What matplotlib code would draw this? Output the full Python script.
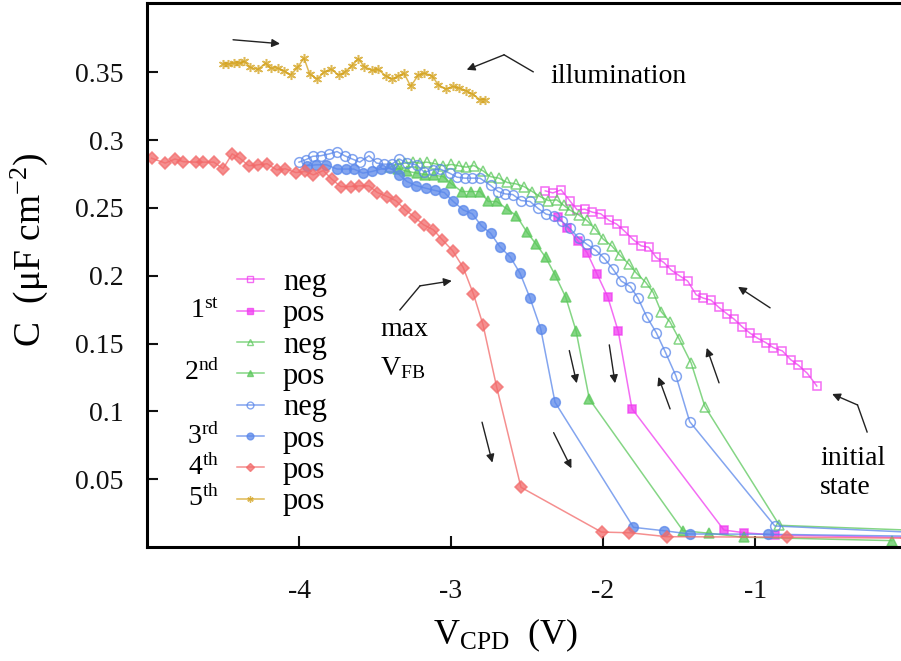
import matplotlib
matplotlib.use("Agg")
import matplotlib.pyplot as plt
from matplotlib.lines import Line2D

plt.rcParams['font.family'] = ['Liberation Serif', 'DejaVu Serif']
plt.rcParams['mathtext.fontset'] = 'custom'
plt.rcParams['mathtext.rm'] = 'Liberation Serif'
plt.rcParams['mathtext.it'] = 'Liberation Serif:italic'
plt.rcParams['axes.unicode_minus'] = False

# ---------------- data ----------------
neg1_x = [-2.38, -2.33, -2.276, -2.22, -2.17, -2.12, -2.07, -2.015, -1.96, -1.91, -1.86, -1.80,
          -1.75, -1.70, -1.65, -1.60, -1.55, -1.497, -1.443, -1.388, -1.34, -1.29, -1.24, -1.186,
          -1.138, -1.086, -1.033, -0.985, -0.93, -0.88, -0.82, -0.765, -0.715, -0.656, -0.594]
neg1_y = [0.2625, 0.261, 0.2633, 0.2554, 0.2485, 0.249, 0.2468, 0.2456, 0.2407, 0.238, 0.233, 0.2264,
          0.222, 0.221, 0.2134, 0.2097, 0.204, 0.1999, 0.196, 0.186, 0.1834, 0.182, 0.1768, 0.172,
          0.168, 0.1625, 0.1576, 0.154, 0.1507, 0.147, 0.1445, 0.138, 0.134, 0.128, 0.1187]

pos1_x = [-2.294, -2.235, -2.166, -2.105, -2.04, -1.97, -1.90, -1.81, -1.205, -1.07, -0.87, 0.0]
pos1_y = [0.243, 0.2355, 0.2257, 0.217, 0.2013, 0.1846, 0.159, 0.102, 0.0125, 0.0105, 0.0088, 0.007]

neg2_x = [-3.40, -3.35, -3.30, -3.25, -3.205, -3.16, -3.105, -3.05, -2.997, -2.95, -2.90, -2.85,
          -2.79, -2.74, -2.685, -2.63, -2.574, -2.52, -2.465, -2.414, -2.36, -2.305, -2.26, -2.22,
          -2.16, -2.107, -2.05, -2.0, -1.943, -1.89, -1.83, -1.78, -1.72, -1.67, -1.618, -1.56,
          -1.50, -1.42, -1.33, -0.84, 0.0]
neg2_y = [0.280, 0.2825, 0.283, 0.2837, 0.283, 0.2837, 0.2825, 0.281, 0.282, 0.281, 0.280, 0.2812,
          0.2773, 0.273, 0.2719, 0.2687, 0.2677, 0.2657, 0.262, 0.2583, 0.2554, 0.2559, 0.252, 0.2485,
          0.2448, 0.2407, 0.2343, 0.227, 0.222, 0.2153, 0.2085, 0.2018, 0.1952, 0.1876, 0.1735, 0.166,
          0.1534, 0.1355, 0.1035, 0.016, 0.0125]

pos2_x = [-3.35, -3.29, -3.226, -3.17, -3.11, -3.05, -3.0, -2.93, -2.87, -2.81, -2.755, -2.70,
          -2.63, -2.57, -2.50, -2.44, -2.377, -2.316, -2.245, -2.178, -2.09, -1.474, -1.30, -1.07, -0.10]
pos2_y = [0.279, 0.277, 0.2756, 0.2745, 0.274, 0.273, 0.268, 0.262, 0.262, 0.262, 0.2547, 0.2547,
          0.249, 0.2443, 0.232, 0.2232, 0.2134, 0.2006, 0.184, 0.1595, 0.109, 0.012, 0.0101, 0.0072, 0.0047]

neg3_x = [-4.0, -3.955, -3.91, -3.857, -3.80, -3.75, -3.70, -3.65, -3.60, -3.54, -3.49, -3.44, -3.39,
          -3.34, -3.29, -3.226, -3.176, -3.12, -3.07, -3.01, -2.96, -2.91, -2.86, -2.81, -2.74,
          -2.69, -2.645, -2.594, -2.54, -2.48, -2.43, -2.375, -2.32, -2.27, -2.22, -2.16, -2.107,
          -2.05, -1.993, -1.936, -1.88, -1.82, -1.77, -1.713, -1.65, -1.59, -1.52, -1.43, -0.87, 0.0]
neg3_y = [0.2837, 0.2855, 0.288, 0.2884, 0.2898, 0.2915, 0.2884, 0.286, 0.2837, 0.2884, 0.283, 0.2822,
          0.2822, 0.286, 0.283, 0.2817, 0.2763, 0.278, 0.2785, 0.2756, 0.2726, 0.2719, 0.2719, 0.2719,
          0.2665, 0.262, 0.2603, 0.2598, 0.2554, 0.2547, 0.2498, 0.2454, 0.2441, 0.24, 0.235, 0.2277,
          0.2232, 0.219, 0.213, 0.205, 0.196, 0.192, 0.1834, 0.1698, 0.158, 0.1436, 0.126, 0.0924,
          0.0155, 0.011]

pos3_x = [-3.95, -3.89, -3.82, -3.75, -3.69, -3.64, -3.58, -3.52, -3.46, -3.40, -3.34, -3.29, -3.23,
          -3.167, -3.105, -3.044, -2.985, -2.92, -2.86, -2.80, -2.74, -2.68, -2.61, -2.546, -2.48,
          -2.41, -2.316, -1.80, -1.60, -1.43, -0.915, 0.0]
pos3_y = [0.281, 0.2817, 0.2817, 0.2786, 0.2786, 0.2786, 0.2756, 0.2768, 0.2786, 0.2793, 0.2743, 0.2694,
          0.2664, 0.2645, 0.2628, 0.2613, 0.2547, 0.2485, 0.2456, 0.2367, 0.2313, 0.2215, 0.2137,
          0.2018, 0.1834, 0.1608, 0.1067, 0.0145, 0.012, 0.0096, 0.0094, 0.008]

pos4_x = [-4.97, -4.88, -4.816, -4.76, -4.68, -4.63, -4.56, -4.50, -4.44, -4.39, -4.33, -4.27, -4.21,
          -4.147, -4.09, -4.02, -3.96, -3.906, -3.84, -3.785, -3.726, -3.66, -3.605, -3.54, -3.485,
          -3.42, -3.364, -3.30, -3.24, -3.18, -3.116, -3.057, -2.99, -2.92, -2.853, -2.79, -2.70,
          -2.54, -2.01, -1.826, -1.58, -0.787, 0.0]
pos4_y = [0.2866, 0.283, 0.286, 0.284, 0.2837, 0.2837, 0.2837, 0.2788, 0.2898, 0.2866, 0.281, 0.2817,
          0.2825, 0.278, 0.2788, 0.276, 0.2768, 0.2743, 0.2775, 0.2712, 0.2657, 0.2657, 0.2662, 0.2662,
          0.2613, 0.2583, 0.2554, 0.2485, 0.243, 0.2375, 0.2338, 0.2264, 0.2185, 0.206, 0.1866, 0.164,
          0.118, 0.044, 0.011, 0.0105, 0.0076, 0.0072, 0.0065]

pos5_x = [-4.50, -4.465, -4.43, -4.395, -4.36, -4.32, -4.27, -4.22, -4.186, -4.14, -4.10, -4.055,
          -4.01, -3.967, -3.93, -3.88, -3.836, -3.79, -3.74, -3.70, -3.653, -3.61, -3.57, -3.52,
          -3.48, -3.43, -3.39, -3.35, -3.31, -3.265, -3.215, -3.175, -3.127, -3.083, -3.035, -2.99,
          -2.945, -2.90, -2.86, -2.81, -2.776]
pos5_y = [0.356, 0.356, 0.3567, 0.3567, 0.358, 0.3535, 0.352, 0.3567, 0.353, 0.353, 0.351, 0.348,
          0.3535, 0.3604, 0.3486, 0.345, 0.350, 0.3523, 0.348, 0.350, 0.3547, 0.360, 0.354, 0.3514,
          0.352, 0.3474, 0.345, 0.347, 0.3493, 0.3395, 0.348, 0.3493, 0.3474, 0.3407, 0.3375, 0.3395,
          0.3383, 0.3363, 0.334, 0.3297, 0.3297]

x_ticks = [-4, -3, -2, -1]
y_ticks = [0.05, 0.1, 0.15, 0.2, 0.25, 0.3, 0.35]
y_tick_labels = ['0.05', '0.1', '0.15', '0.2', '0.25', '0.3', '0.35']
series_labels = ['neg', 'pos', 'neg', 'pos', 'neg', 'pos', 'pos', 'pos']
ordinal_labels = ['1$^{\\rm st}$', '2$^{\\rm nd}$', '3$^{\\rm rd}$', '4$^{\\rm th}$', '5$^{\\rm th}$']

# ---------------- styles ----------------
MAG = '#F03CF0'
GRN = '#5CC85C'
BLU = '#5A87EA'
RED = '#F26A6A'
GLD = '#D4A21C'

W, H = 901, 661
fig = plt.figure(figsize=(W / 100, H / 100), dpi=100)
ax = fig.add_axes([147 / W, (H - 547) / H, (W - 147) / W, (547 - 3) / H])

lw = 1.1
al = 0.75
series = [
    (neg1_x, neg1_y, MAG, 's', 'none', 6.0),
    (pos1_x, pos1_y, MAG, 's', MAG, 6.0),
    (neg2_x, neg2_y, GRN, '^', 'none', 7.0),
    (pos2_x, pos2_y, GRN, '^', GRN, 7.0),
    (neg3_x, neg3_y, BLU, 'o', 'none', 7.0),
    (pos3_x, pos3_y, BLU, 'o', BLU, 7.0),
    (pos4_x, pos4_y, RED, 'D', RED, 6.0),
    (pos5_x, pos5_y, GLD, (6, 2, 0), GLD, 6.5),
]
handles = []
for xs, ys, c, m, fc, ms in series:
    ax.plot(xs, ys, color=c, lw=lw, marker=m, markersize=ms, markerfacecolor=fc,
            markeredgecolor=c, markeredgewidth=1.1, alpha=al, clip_on=True)
    handles.append(Line2D([], [], color=c, lw=lw, marker=m, markersize=ms * 0.7,
                          markerfacecolor=fc, markeredgecolor=c, markeredgewidth=1.0, alpha=al))

ax.set_xlim(-5.0, -0.04)
ax.set_ylim(0, 0.401)
ax.set_xticks(x_ticks)
ax.set_xticklabels([str(t) for t in x_ticks])
ax.set_yticks(y_ticks)
ax.set_yticklabels(y_tick_labels)

for s in ['left', 'bottom', 'top']:
    ax.spines[s].set_linewidth(2.2)
ax.spines['right'].set_visible(False)
ax.tick_params(axis='both', direction='in', length=8, width=1.5, labelsize=20, colors='#111111')
ax.tick_params(axis='x', pad=23)
ax.tick_params(axis='y', pad=17)

ax.set_xlabel('V$_{\\rm CPD}$  (V)', fontsize=26)
ax.set_ylabel('C  (\u03bcF cm$^{-2}$)', fontsize=27)
ax.xaxis.set_label_coords((505 - 147) / (W - 147), -(617 - 547) / 544)
ax.yaxis.set_label_coords(-(147 - 50) / (W - 147), (547 - 250) / 544)

# legend
leg = ax.legend(handles, series_labels, loc='upper left', frameon=False,
                bbox_to_anchor=(237 / W, (H - 268) / H), bbox_transform=fig.transFigure,
                fontsize=22, handlelength=0.88, handletextpad=0.62, labelspacing=0.077,
                borderpad=0, borderaxespad=0)

ord_rows = [311, 373, 437, 468, 499]
for t, yy in zip(ordinal_labels, ord_rows):
    fig.text(219 / W, (H - yy) / H, t, ha='right', va='center', fontsize=20)

# annotations
ak = dict(arrowstyle='-|>', color='#222222', lw=1.0, mutation_scale=12, shrinkA=0, shrinkB=0)
def arrow(x0, y0, x1, y1):
    ax.annotate('', xy=(x1, y1), xytext=(x0, y0), arrowprops=ak)

arrow(-4.434, 0.3739, -4.125, 0.371)
ax.plot([-2.46, -2.651], [0.3503, 0.3628], color='#222222', lw=1.0)
arrow(-2.651, 0.3628, -2.897, 0.3518)
ax.text(-2.349, 0.3466, 'illumination', fontsize=20, va='center', ha='left')

arrow(-0.901, 0.1763, -1.112, 0.1918)
ax.plot([-0.263, -0.326], [0.0848, 0.1047], color='#222222', lw=1.0)
arrow(-0.326, 0.1047, -0.493, 0.1128)
ax.text(-0.572, 0.0656, 'initial', fontsize=20, va='center', ha='left')
ax.text(-0.572, 0.0435, 'state', fontsize=20, va='center', ha='left')

arrow(-1.237, 0.121, -1.318, 0.1468)
arrow(-1.559, 0.1018, -1.636, 0.1254)
arrow(-2.222, 0.1448, -2.173, 0.1207)
arrow(-1.959, 0.149, -1.921, 0.1207)
arrow(-2.796, 0.092, -2.728, 0.0622)
arrow(-2.325, 0.0843, -2.208, 0.058)

ax.plot([-3.336, -3.204], [0.1748, 0.1925], color='#222222', lw=1.0)
arrow(-3.204, 0.1925, -2.995, 0.1962)
ax.text(-3.467, 0.160, 'max', fontsize=20, va='center', ha='left')
ax.text(-3.467, 0.132, 'V$_{\\rm FB}$', fontsize=20, va='center', ha='left')

fig.savefig('out.png', dpi=100)
